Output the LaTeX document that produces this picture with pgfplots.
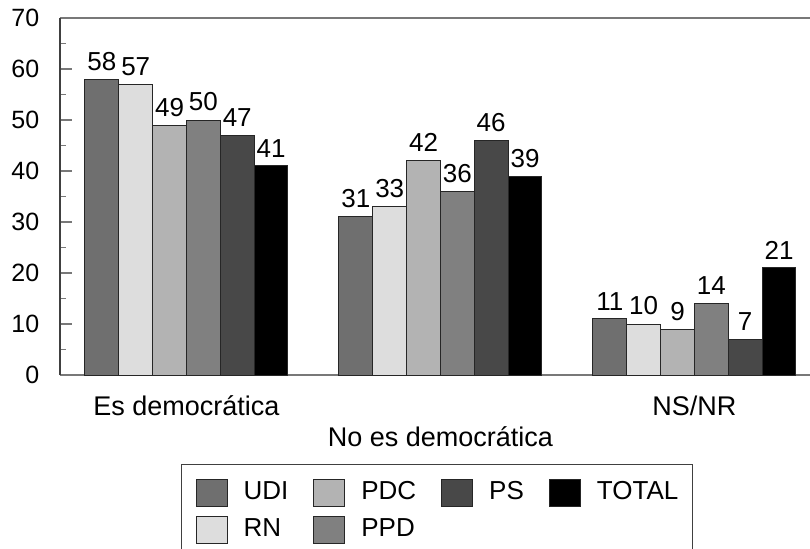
\documentclass[border=0pt]{standalone}
\usepackage{fontspec}
\setmainfont{Liberation Sans}
\usepackage{pgfplots}
\pgfplotsset{compat=1.18}

\definecolor{cUDI}{RGB}{111,111,111}
\definecolor{cRN}{RGB}{221,221,221}
\definecolor{cPDC}{RGB}{179,179,179}
\definecolor{cPPD}{RGB}{128,128,128}
\definecolor{cPS}{RGB}{72,72,72}
\definecolor{cTOT}{RGB}{0,0,0}
\definecolor{axgray}{RGB}{120,120,120}

% bar width in axis units; shifts follow the order UDI RN PDC PPD PS TOTAL
\def\bw{0.1332}

\begin{document}
\fontsize{12.5}{15}\selectfont
\begin{tikzpicture}
\begin{axis}[
  scale only axis, width=375pt, height=178.5pt,
  at={(0,0)}, anchor=south west,
  ybar=0pt, bar width=\bw,
  xmin=-0.498, xmax=2.455, ymin=0, ymax=70,
  axis x line=box, axis y line=left,
  x axis line style={-, axgray, line width=0.8pt},
  y axis line style={-, black!75, line width=0.8pt},
  xtick={0,1,2},
  xticklabels={Es democrática,\raisebox{-15.5pt}{No es democrática},NS/NR},
  xticklabel style={anchor=base, yshift=-20pt, font=\fontsize{13.5}{16}\selectfont},
  x tick style={draw=none},
  ytick={0,10,...,70}, minor ytick={5,15,...,65},
  tick align=inside,
  major tick length=6pt, minor tick length=3pt,
  y tick style={axgray, line width=0.8pt},
  yticklabel style={xshift=-6pt, font=\fontsize{12.5}{15}\selectfont},
  /pgf/number format/assume math mode=true,
  nodes near coords,
  every node near coord/.append style={font=\fontsize{13}{15}\selectfont, black},
  legend columns=4,
  legend cell align=left,
  legend image code/.code={\draw[#1] (0pt,-6.75pt) rectangle (15.5pt,6.75pt);},
  legend style={
    at={(0.1613,-0.2493)}, anchor=north west,
    draw=black!75, line width=0.6pt,
    font=\fontsize{13}{15}\selectfont,
    inner xsep=7pt, inner ysep=7pt,
    nodes={inner sep=0pt},
    row sep=4.5pt,
    /tikz/every odd column/.append style={column sep=8pt},
    /tikz/every even column/.append style={column sep=12.5pt},
  },
  every axis plot/.append style={draw=black!85, line width=0.5pt},
]
\addplot[fill=cUDI, bar shift=-2.5*\bw] coordinates {(0,58) (1,31) (2,11)};
\addlegendentry{UDI}
\addplot[fill=cPDC, bar shift=-0.5*\bw] coordinates {(0,49) (1,42) (2,9)};
\addlegendentry{PDC}
\addplot[fill=cPS, bar shift=1.5*\bw] coordinates {(0,47) (1,46) (2,7)};
\addlegendentry{PS}
\addplot[fill=cTOT, bar shift=2.5*\bw] coordinates {(0,41) (1,39) (2,21)};
\addlegendentry{TOTAL}
\addplot[fill=cRN, bar shift=-1.5*\bw] coordinates {(0,57) (1,33) (2,10)};
\addlegendentry{RN}
\addplot[fill=cPPD, bar shift=0.5*\bw] coordinates {(0,50) (1,36) (2,14)};
\addlegendentry{PPD}
\end{axis}
\pgfresetboundingbox
\useasboundingbox (-30pt,-86.5pt) rectangle (375pt,187.5pt);
\end{tikzpicture}
\end{document}
